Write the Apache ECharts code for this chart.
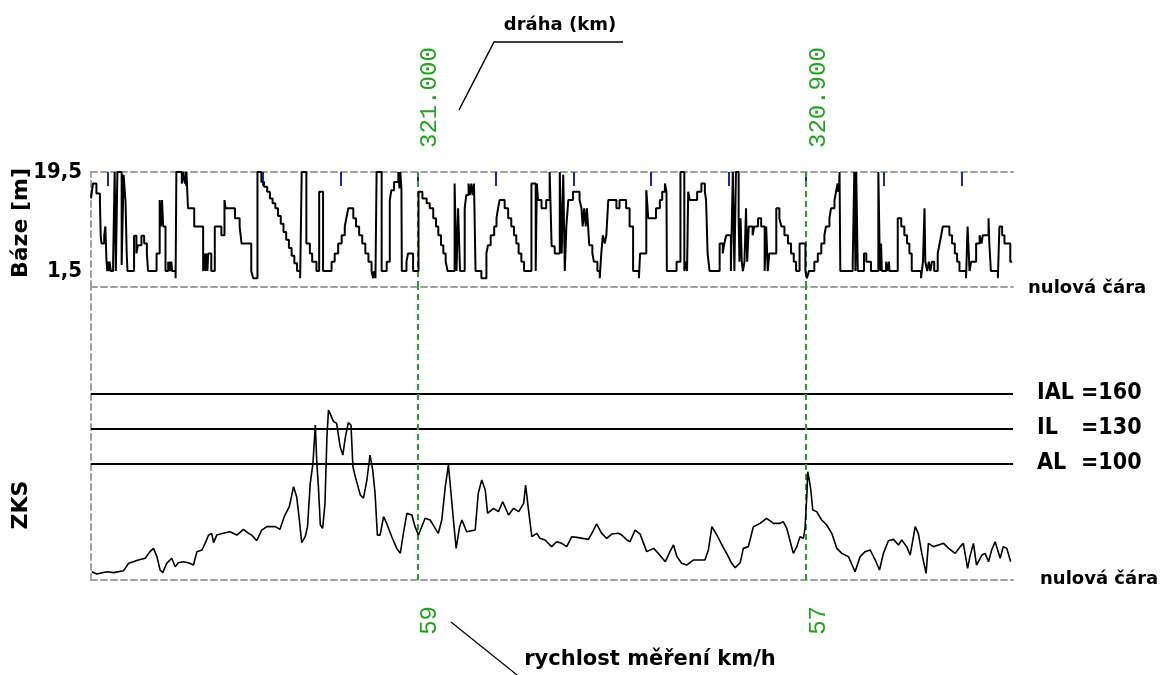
<!DOCTYPE html>
<html>
<head>
<meta charset="utf-8">
<script src="https://cdn.jsdelivr.net/npm/echarts@6/dist/echarts.min.js"></script>
<style>html,body{margin:0;padding:0;background:#fff}#c{width:1161px;height:675px}</style>
</head>
<body>
<div id="c"></div>
<script>
// distance along track in metres, measured from km 321.000 (km decreasing to the right)
const kmMarks = [0, 100];
const kmLabels = ['321.000', '320.900'];
const speedLabels = ['59', '57'];
const stationTicks = [-80, -60, -40, -20, 0, 20, 40, 60, 80, 100, 120, 140];
const baseTickLabels = [1.5, 19.5];
const limitNames = ['IAL', 'IL', 'AL'];
const limitValues = [160, 130, 100];

// Báze [m] — breakpoints (value holds until next position)
const baseDist = [-84.3,-83.8,-82.9,-82.0,-81.8,-81.6,-80.9,-80.6,-80.3,-80.1,-79.9,-79.7,-79.5,-79.2,-78.6,-78.2,-77.9,-77.5,-76.4,-75.9,-75.4,-75.1,-74.9,-73.2,-72.6,-72.2,-71.3,-70.6,-69.9,-69.6,-67.4,-66.6,-66.3,-66.0,-65.7,-65.1,-64.4,-64.2,-64.0,-63.8,-63.6,-63.4,-62.5,-62.3,-60.9,-60.5,-60.1,-59.7,-59.3,-57.7,-55.4,-55.0,-54.8,-54.5,-54.3,-54.1,-53.3,-52.4,-50.7,-49.9,-49.6,-47.2,-46.0,-45.5,-43.0,-42.5,-41.4,-40.4,-39.7,-38.9,-38.2,-37.5,-36.8,-36.1,-35.4,-34.7,-34.0,-33.3,-32.6,-31.9,-31.2,-30.4,-30.0,-28.8,-27.9,-27.3,-26.2,-25.5,-24.5,-22.3,-21.5,-20.6,-19.7,-18.9,-18.5,-18.0,-16.7,-16.0,-15.2,-14.4,-13.6,-12.8,-12.0,-11.6,-11.3,-11.0,-10.7,-9.4,-8.1,-7.3,-6.9,-6.2,-5.1,-4.8,-4.6,-4.3,-4.2,-3.0,-2.6,-1.3,0.1,1.1,2.2,3.0,3.9,4.6,5.2,5.9,6.5,7.1,7.6,9.4,9.9,10.3,10.8,12.0,12.4,13.0,13.4,13.7,14.1,14.4,14.8,16.3,17.6,18.0,18.7,19.6,20.2,20.6,21.0,22.3,23.2,24.0,24.7,25.3,25.9,26.6,27.3,29.2,30.3,30.6,30.9,31.8,33.0,33.9,34.4,35.2,36.5,37.0,37.4,37.8,38.2,38.7,39.9,41.6,42.1,42.4,42.8,43.2,43.5,43.8,44.1,44.9,45.3,46.2,46.8,47.2,47.6,48.1,48.5,49.0,51.1,51.9,53.6,54.5,55.4,56.9,57.2,58.8,59.3,61.3,62.3,62.9,63.6,64.0,64.1,66.6,67.6,68.6,69.0,69.3,69.6,70.0,71.9,73.0,73.9,74.2,74.6,75.1,77.7,78.5,78.9,79.4,80.6,81.1,81.5,81.9,82.6,82.8,83.1,83.4,83.7,84.1,84.5,84.8,85.2,86.2,86.6,87.6,88.4,89.3,89.7,90.1,90.5,92.3,93.1,93.6,94.4,95.3,96.1,96.8,97.4,98.3,99.8,100.2,100.7,102.1,103.0,103.9,104.7,105.1,106.0,106.4,107.3,107.7,108.1,108.3,108.5,108.6,108.8,112.0,112.4,112.7,112.9,113.3,114.9,115.5,116.7,118.6,118.9,119.1,119.3,119.5,120.6,121.0,121.3,121.5,123.6,124.5,125.3,126.0,126.6,127.2,129.6,130.1,130.5,130.7,131.2,131.6,132.0,132.4,133.0,133.9,134.4,134.8,135.2,136.9,137.6,138.3,138.9,139.5,141.2,141.6,142.1,142.5,143.8,144.7,145.2,145.5,147.0,147.2,147.6,149.4,149.8,150.5,151.1,152.6,153.1];
const baseVal = [14.7,17.4,15.6,14.1,8.0,6.5,8.0,9.6,3.2,1.5,3.2,1.5,3.2,1.5,3.2,19.5,1.5,19.5,2.6,19.0,14.1,4.7,1.5,7.9,4.7,6.2,7.9,6.5,4.7,1.5,4.7,14.4,9.6,14.4,9.6,1.5,3.2,1.5,3.2,1.5,3.2,1.5,0.2,19.5,17.4,19.5,17.4,19.5,12.9,9.6,1.5,4.7,1.5,4.7,1.5,4.7,1.5,9.6,8.0,14.4,12.9,11.1,9.6,6.5,1.5,0.2,19.5,17.7,16.8,15.9,14.7,13.8,12.9,11.5,10.1,8.6,7.2,5.7,4.3,2.9,1.5,0.2,19.5,6.5,4.7,3.2,1.5,15.9,1.5,3.2,4.7,6.5,8.0,9.6,11.1,12.9,11.1,9.6,8.0,6.5,4.7,3.2,1.5,0.2,1.5,0.2,19.5,1.5,3.2,14.4,16.2,17.7,19.5,16.5,19.5,16.5,1.5,3.2,4.7,1.5,15.9,14.7,13.8,12.9,11.1,9.6,8.0,6.2,4.7,3.2,1.5,17.4,1.5,12.9,1.5,12.9,15.3,17.4,15.3,17.4,15.3,17.4,1.5,0.2,4.7,6.2,8.0,9.6,11.1,12.9,14.4,12.9,11.1,9.6,8.0,6.5,4.7,3.2,1.5,17.4,1.5,17.4,14.4,12.9,14.4,19.5,6.0,4.7,19.5,4.7,19.0,1.5,9.6,14.4,15.9,14.4,12.9,9.6,12.9,9.6,12.9,9.6,6.2,4.7,3.2,1.5,0.2,4.7,8.0,6.5,8.0,14.4,12.9,14.4,12.9,9.6,1.5,0.2,4.7,16.2,11.1,12.9,14.4,15.9,17.4,15.9,1.5,3.2,19.5,1.5,3.2,1.5,15.9,14.4,15.9,17.4,15.9,14.4,4.7,1.5,6.5,4.7,6.5,8.0,1.5,19.5,1.5,19.5,11.1,3.2,11.1,3.2,1.5,3.2,12.9,3.2,9.6,8.0,9.6,11.1,9.6,1.5,9.6,1.5,4.7,12.9,11.1,9.6,8.0,6.5,4.7,3.2,1.5,6.5,1.5,0.2,1.5,3.2,4.7,6.5,8.0,9.6,11.1,12.9,14.4,15.9,17.4,15.9,17.4,19.5,1.5,3.2,19.5,1.5,19.5,1.5,4.7,3.2,1.5,19.5,6.5,1.5,6.5,1.5,3.2,1.5,3.2,1.5,11.1,9.6,8.0,6.5,4.7,1.5,0.2,3.2,12.9,3.2,1.5,3.2,1.5,3.2,1.5,4.7,6.5,8.0,9.6,8.0,6.5,4.7,3.2,1.5,0.2,9.6,1.5,3.2,6.5,8.0,6.5,8.0,11.1,6.5,1.5,0.2,9.6,8.0,6.5,3.2,3.2];

// ZKS
const zksDist = [-84.1,-82.8,-80.2,-78.5,-75.9,-74.6,-73.4,-72.1,-70.3,-69.1,-68.2,-67.3,-66.5,-65.8,-64.8,-63.5,-62.6,-61.8,-60.5,-59.2,-57.9,-57.0,-55.7,-54.9,-54.0,-53.2,-52.7,-51.9,-50.2,-48.5,-46.7,-45.0,-43.7,-42.9,-41.6,-40.3,-39.0,-36.8,-35.6,-34.5,-33.2,-32.1,-31.3,-30.6,-30.0,-29.1,-28.5,-27.8,-27.1,-26.5,-26.1,-25.7,-25.2,-24.6,-24.0,-23.5,-23.1,-22.7,-21.8,-21.0,-20.1,-19.4,-18.8,-18.0,-17.3,-16.8,-16.2,-14.9,-14.1,-13.2,-12.4,-11.7,-11.1,-10.5,-9.8,-8.9,-8.1,-6.8,-5.5,-4.6,-3.8,-2.9,-1.6,-0.8,0.1,0.5,1.8,3.1,4.4,5.2,6.1,7.0,7.8,8.4,9.1,9.8,10.7,11.3,12.5,14.7,15.5,16.4,17.3,17.9,19.4,20.7,21.8,23.3,24.6,25.9,27.2,27.7,28.4,29.3,30.6,31.4,32.7,34.4,35.7,37.0,38.3,39.6,40.9,43.9,45.2,46.0,47.3,48.6,49.9,51.6,52.5,53.8,54.6,55.9,57.2,58.1,58.9,60.7,61.9,63.7,64.9,65.8,66.7,67.9,69.2,70.9,72.7,73.9,74.8,75.7,77.0,78.3,79.5,80.8,81.7,83.0,83.8,85.1,86.4,88.1,89.8,91.6,93.3,94.1,95.0,95.9,96.7,97.6,98.4,99.3,99.7,100.2,100.4,100.8,101.2,101.7,102.7,104.0,105.3,106.6,107.9,109.2,110.9,112.6,113.9,115.2,116.5,117.8,118.9,119.9,121.2,122.5,123.8,124.6,125.9,126.8,128.1,128.9,129.8,130.9,131.5,132.8,134.1,135.4,136.7,138.4,139.7,140.5,141.6,142.2,143.1,143.9,145.3,146.1,147.0,147.8,148.7,150.0,150.8,151.7,152.7];
const zksVal = [7.1,5.1,7.1,6.3,8.0,14.3,15.7,17.1,18.6,24.3,27.1,20.0,8.6,6.3,14.3,18.6,11.4,14.8,15.7,14.8,12.8,24.3,25.7,31.4,38.5,40.0,32.0,38.5,40.0,41.4,38.5,43.4,40.0,38.5,33.7,42.8,45.7,45.7,43.4,54.3,62.8,80.0,71.4,51.4,32.0,37.1,45.7,82.8,100.0,132.8,100.0,80.0,47.1,44.3,65.7,122.8,145.7,142.8,135.7,134.3,114.3,107.1,121.4,134.8,132.8,97.1,88.6,72.8,70.0,85.7,107.1,94.3,74.3,38.5,38.5,54.3,48.5,37.1,27.1,22.8,40.0,57.1,55.7,45.7,38.5,37.1,52.9,51.4,44.3,40.0,51.4,80.0,98.5,77.1,51.4,27.1,45.7,51.4,41.4,42.8,74.3,85.7,77.1,57.1,61.4,58.6,67.1,55.7,61.4,58.6,65.7,81.4,61.4,37.1,40.0,35.7,34.3,28.6,32.8,31.4,28.6,37.1,36.5,34.8,42.8,48.0,40.0,35.7,39.4,40.0,38.5,34.3,32.8,42.8,39.4,31.4,24.3,27.1,22.8,15.7,24.3,30.0,20.0,14.3,12.8,17.1,17.1,17.1,25.7,45.7,38.5,30.0,22.8,14.3,10.6,14.8,27.1,28.6,45.7,48.5,52.9,48.5,48.5,50.0,44.3,32.8,22.8,28.6,37.1,35.7,44.3,74.3,92.8,85.7,77.1,60.0,58.6,51.4,47.1,40.0,27.1,22.8,20.0,7.1,20.0,24.3,25.7,17.1,8.6,22.8,33.7,34.8,30.0,34.3,28.6,21.4,45.7,40.0,22.8,5.7,31.4,28.6,30.0,31.4,27.1,22.8,28.6,31.4,10.0,20.0,31.4,12.8,21.4,22.8,15.7,25.7,32.8,18.6,28.6,27.1,15.7];

const GREEN = '#1fa51f';
const GRAY = '#a0a0a0';
const NARROW = "'Liberation Sans Narrow','DejaVu Sans Condensed','Arial Narrow',sans-serif";
const BOLD = "'DejaVu Sans',Verdana,sans-serif";
const MONO = "'Liberation Mono','Courier New',monospace";

const dashed = { color: GRAY, width: 2, type: [6, 4] };
const greenLines = kmMarks.map(v => ({ xAxis: v, lineStyle: { color: GREEN, width: 2, type: [6, 4] }, label: { show: false } }));
const limitLines = limitNames.map((n, i) => ({
  yAxis: limitValues[i], name: n,
  lineStyle: { color: '#000', width: 2, type: 'solid' },
  label: {
    show: true, position: 'end', distance: 24,
    formatter: p => '{n|' + p.name + '}{v|=' + p.value + '}',
    rich: {
      n: { width: 44, fontFamily: NARROW, fontWeight: 'bold', fontSize: 23, color: '#000' },
      v: { fontFamily: NARROW, fontWeight: 'bold', fontSize: 23, color: '#000' }
    }
  }
}));

const chart = echarts.init(document.getElementById('c'), null, { renderer: 'canvas' });
const xMin = -84.3, xMax = 153.3;
chart.setOption({
  animation: false,
  backgroundColor: '#fff',
  grid: [
    { left: 91, right: 148, top: 172, height: 115 },
    { left: 91, right: 148, top: 287, height: 293 }
  ],
  xAxis: [
    {
      gridIndex: 0, type: 'value', position: 'top', min: xMin, max: xMax,
      axisLine: { show: true, onZero: false, lineStyle: dashed },
      axisTick: { show: true, inside: true, length: 14, customValues: stationTicks, lineStyle: { color: '#2424a8', width: 2 } },
      axisLabel: {
        customValues: kmMarks, formatter: v => kmLabels[kmMarks.indexOf(v)],
        rotate: -90, margin: 24, verticalAlign: 'top', color: GREEN, fontFamily: MONO, fontSize: 24
      },
      splitLine: { show: false }
    },
    {
      gridIndex: 0, type: 'value', position: 'bottom', min: xMin, max: xMax,
      axisLine: { show: true, onZero: false, lineStyle: dashed },
      axisTick: { show: false }, axisLabel: { show: false }, splitLine: { show: false }
    },
    {
      gridIndex: 1, type: 'value', position: 'bottom', min: xMin, max: xMax,
      axisLine: { show: true, onZero: false, lineStyle: dashed },
      axisTick: { show: false },
      axisLabel: {
        customValues: kmMarks, formatter: v => speedLabels[kmMarks.indexOf(v)],
        rotate: 90, margin: 26, verticalAlign: 'top', color: GREEN, fontFamily: MONO, fontSize: 24
      },
      splitLine: { show: false }
    }
  ],
  yAxis: [
    {
      gridIndex: 0, type: 'value', min: -1.4, max: 19.5,
      axisLine: { show: true, onZero: false, lineStyle: dashed },
      axisTick: { show: false },
      axisLabel: {
        customValues: baseTickLabels, formatter: v => String(v).replace('.', ','),
        margin: 9, color: '#000', fontFamily: NARROW, fontWeight: 'bold', fontSize: 22
      },
      splitLine: { show: false }
    },
    {
      gridIndex: 1, type: 'value', min: 0, max: 251.1,
      axisLine: { show: true, onZero: false, lineStyle: dashed },
      axisTick: { show: false }, axisLabel: { show: false }, splitLine: { show: false }
    }
  ],
  series: [
    {
      name: 'Báze', type: 'line', xAxisIndex: 0, yAxisIndex: 0, step: 'end',
      data: baseDist.map((d, i) => [d, baseVal[i]]),
      showSymbol: false, symbol: 'none', z: 5,
      lineStyle: { color: '#000', width: 2 },
      markLine: { silent: true, symbol: 'none', z: 1, data: greenLines }
    },
    {
      name: 'ZKS', type: 'line', xAxisIndex: 2, yAxisIndex: 1,
      data: zksDist.map((d, i) => [d, zksVal[i]]),
      showSymbol: false, symbol: 'none', z: 5,
      lineStyle: { color: '#000', width: 1.6 },
      markLine: { silent: true, symbol: 'none', z: 1, data: limitLines.concat(greenLines) }
    }
  ],
  graphic: [
    { type: 'text', x: 560, y: 25, style: { text: 'dráha (km)', fontFamily: BOLD, fontWeight: 'bold', fontSize: 18, fill: '#000', align: 'center', verticalAlign: 'middle', textAlign: 'center', textVerticalAlign: 'middle' } },
    { type: 'polyline', shape: { points: [[459, 110], [494, 42], [623, 42]] }, style: { stroke: '#000', lineWidth: 1.5, fill: null } },
    { type: 'line', shape: { x1: 451, y1: 622, x2: 517, y2: 675 }, style: { stroke: '#000', lineWidth: 1.2 } },
    { type: 'text', x: 650, y: 660, style: { text: 'rychlost měření km/h', fontFamily: BOLD, fontWeight: 'bold', fontSize: 21, fill: '#000', align: 'center', verticalAlign: 'middle', textAlign: 'center', textVerticalAlign: 'middle' } },
    { type: 'text', x: 1028, y: 288, style: { text: 'nulová čára', fontFamily: BOLD, fontWeight: 'bold', fontSize: 18, fill: '#000', align: 'left', verticalAlign: 'middle', textAlign: 'left', textVerticalAlign: 'middle' } },
    { type: 'text', x: 1040, y: 579, style: { text: 'nulová čára', fontFamily: BOLD, fontWeight: 'bold', fontSize: 18, fill: '#000', align: 'left', verticalAlign: 'middle', textAlign: 'left', textVerticalAlign: 'middle' } },
    { type: 'text', x: 21, y: 223, rotation: Math.PI / 2, style: { text: 'Báze [m]', fontFamily: BOLD, fontWeight: 'bold', fontSize: 22, fill: '#000', align: 'center', verticalAlign: 'middle', textAlign: 'center', textVerticalAlign: 'middle' } },
    { type: 'text', x: 21, y: 505, rotation: Math.PI / 2, style: { text: 'ZKS', fontFamily: BOLD, fontWeight: 'bold', fontSize: 22, fill: '#000', align: 'center', verticalAlign: 'middle', textAlign: 'center', textVerticalAlign: 'middle' } }
  ]
});
</script>
</body>
</html>
